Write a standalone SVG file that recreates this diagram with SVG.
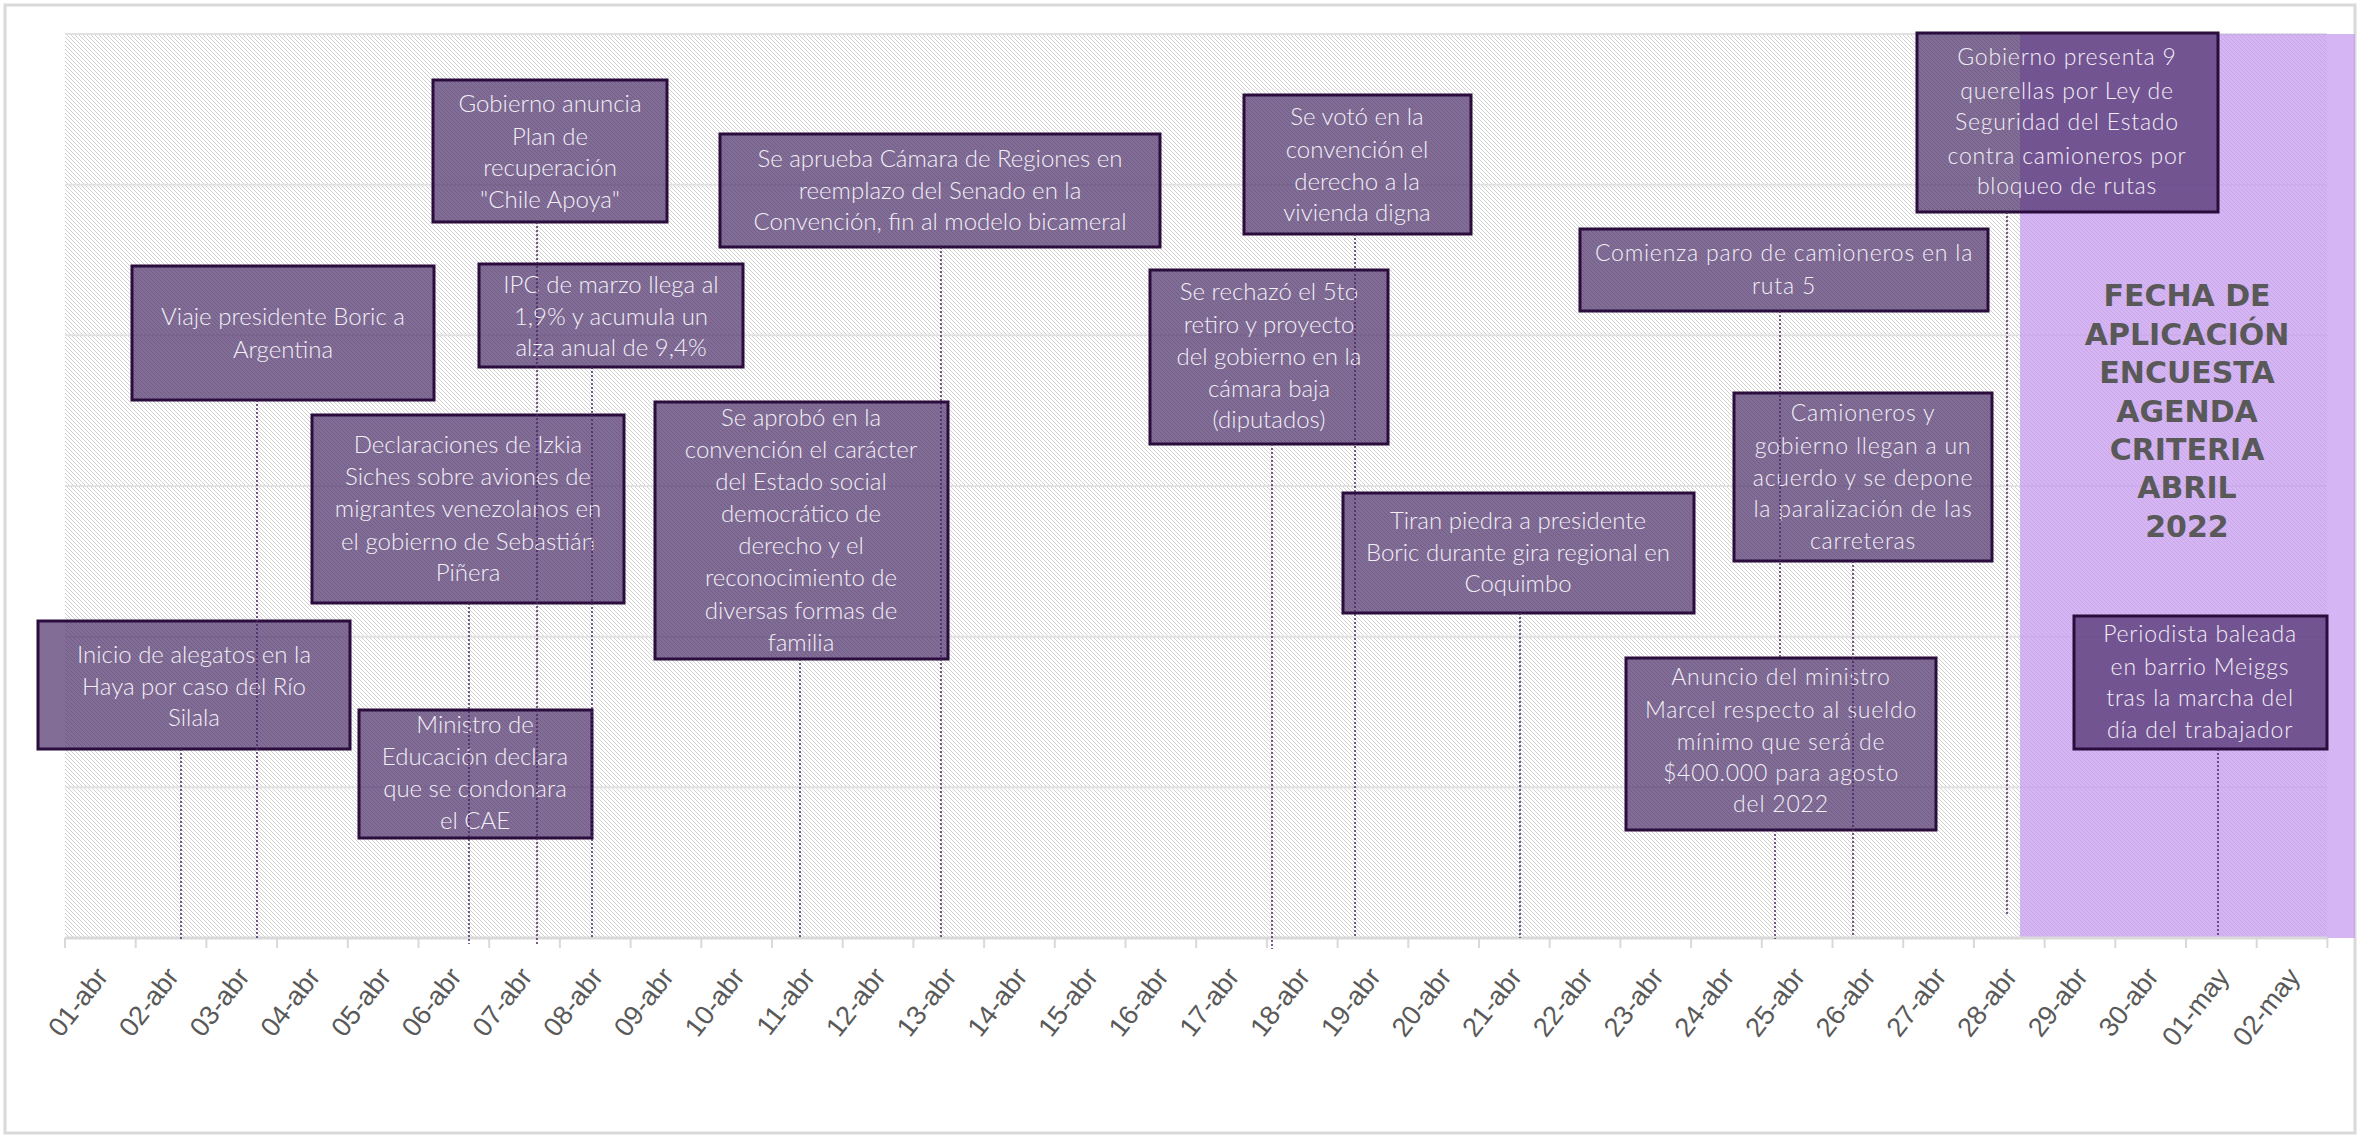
<svg xmlns="http://www.w3.org/2000/svg" width="2364" height="1138" viewBox="0 0 2364 1138">
<defs>
<pattern id="hatch" patternUnits="userSpaceOnUse" width="4" height="4">
<rect width="4" height="4" fill="#ffffff"/>
<path d="M0,0 L4,4 M-1,3 L1,5 M3,-1 L5,1" stroke="#d0d0d0" stroke-width="1"/>
</pattern>
<style>
.box{fill:rgb(70,40,100);fill-opacity:.68;stroke:#2a0d3d;stroke-width:3}
.t{font-family:Lato,"Open Sans","Liberation Sans",sans-serif;font-weight:300;font-size:24px;fill:#f3eff6;text-anchor:middle}
.cg{font-size:23px;letter-spacing:0.8px}
.c{stroke:#4a2466;stroke-width:1.5;stroke-dasharray:2 2;fill:none}
.grid{stroke:#e2e2e2;stroke-width:2;fill:none}
.ax{font-family:"Liberation Sans",Arial,sans-serif;font-size:27px;fill:#595959;text-anchor:end}
.title{font-family:"DejaVu Sans",sans-serif;font-weight:bold;font-size:30px;fill:#595959;text-anchor:middle}
</style>
</defs>
<rect x="5" y="5" width="2350" height="1128" fill="#ffffff" stroke="#d9d9d9" stroke-width="3"/>
<g id="plot">
<rect x="65" y="34" width="2262" height="904" fill="url(#hatch)"/>
<path class="grid" d="M65,34H2327M65,184.7H2327M65,335.3H2327M65,486H2327M65,636.7H2327M65,787.3H2327"/>
<rect x="2020" y="34" width="335" height="904" fill="rgb(196,150,240)" fill-opacity="0.7"/>
</g>
<g id="axis">
<path d="M65,938H2327" stroke="#d9d9d9" stroke-width="3"/>
<path d="M65,938v10M135.7,938v10M206.4,938v10M277.1,938v10M347.8,938v10M418.5,938v10M489.2,938v10M559.9,938v10M630.6,938v10M701.3,938v10M772,938v10M842.7,938v10M913.4,938v10M984.1,938v10M1054.8,938v10M1125.5,938v10M1196.2,938v10M1266.9,938v10M1337.6,938v10M1408.3,938v10M1479,938v10M1549.7,938v10M1620.4,938v10M1691.1,938v10M1761.8,938v10M1832.5,938v10M1903.2,938v10M1973.9,938v10M2044.6,938v10M2115.3,938v10M2186,938v10M2256.7,938v10M2327.4,938v10" stroke="#d9d9d9" stroke-width="2"/>
<text class="ax" transform="translate(109.4,977) rotate(-52)">01-abr</text>
<text class="ax" transform="translate(180.1,977) rotate(-52)">02-abr</text>
<text class="ax" transform="translate(250.8,977) rotate(-52)">03-abr</text>
<text class="ax" transform="translate(321.5,977) rotate(-52)">04-abr</text>
<text class="ax" transform="translate(392.2,977) rotate(-52)">05-abr</text>
<text class="ax" transform="translate(462.9,977) rotate(-52)">06-abr</text>
<text class="ax" transform="translate(533.6,977) rotate(-52)">07-abr</text>
<text class="ax" transform="translate(604.3,977) rotate(-52)">08-abr</text>
<text class="ax" transform="translate(675,977) rotate(-52)">09-abr</text>
<text class="ax" transform="translate(745.7,977) rotate(-52)">10-abr</text>
<text class="ax" transform="translate(816.4,977) rotate(-52)">11-abr</text>
<text class="ax" transform="translate(887.1,977) rotate(-52)">12-abr</text>
<text class="ax" transform="translate(957.8,977) rotate(-52)">13-abr</text>
<text class="ax" transform="translate(1028.5,977) rotate(-52)">14-abr</text>
<text class="ax" transform="translate(1099.2,977) rotate(-52)">15-abr</text>
<text class="ax" transform="translate(1169.9,977) rotate(-52)">16-abr</text>
<text class="ax" transform="translate(1240.6,977) rotate(-52)">17-abr</text>
<text class="ax" transform="translate(1311.3,977) rotate(-52)">18-abr</text>
<text class="ax" transform="translate(1382,977) rotate(-52)">19-abr</text>
<text class="ax" transform="translate(1452.7,977) rotate(-52)">20-abr</text>
<text class="ax" transform="translate(1523.4,977) rotate(-52)">21-abr</text>
<text class="ax" transform="translate(1594.1,977) rotate(-52)">22-abr</text>
<text class="ax" transform="translate(1664.8,977) rotate(-52)">23-abr</text>
<text class="ax" transform="translate(1735.5,977) rotate(-52)">24-abr</text>
<text class="ax" transform="translate(1806.2,977) rotate(-52)">25-abr</text>
<text class="ax" transform="translate(1876.9,977) rotate(-52)">26-abr</text>
<text class="ax" transform="translate(1947.6,977) rotate(-52)">27-abr</text>
<text class="ax" transform="translate(2018.3,977) rotate(-52)">28-abr</text>
<text class="ax" transform="translate(2089,977) rotate(-52)">29-abr</text>
<text class="ax" transform="translate(2159.7,977) rotate(-52)">30-abr</text>
<text class="ax" transform="translate(2230.4,977) rotate(-52)">01-may</text>
<text class="ax" transform="translate(2301.1,977) rotate(-52)">02-may</text>
</g>
<g id="title">
<text class="title" x="2187" y="306">FECHA DE</text>
<text class="title" x="2187" y="345">APLICACIÓN</text>
<text class="title" x="2187" y="383">ENCUESTA</text>
<text class="title" x="2187" y="422">AGENDA</text>
<text class="title" x="2187" y="460">CRITERIA</text>
<text class="title" x="2187" y="498">ABRIL</text>
<text class="title" x="2187" y="537">2022</text>
</g>
<g id="n-inicio-alegatos"><rect class="box" x="38" y="621" width="312" height="128"/>
<text class="t" x="194" y="663">Inicio de alegatos en la</text><text class="t" x="194" y="695">Haya por caso del Río</text><text class="t" x="194" y="726">Silala</text></g>
<g id="n-viaje-boric"><rect class="box" x="132" y="266" width="302" height="134"/>
<text class="t" x="283" y="325">Viaje presidente Boric a</text><text class="t" x="283" y="358">Argentina</text></g>
<g id="n-chile-apoya"><rect class="box" x="433" y="80" width="234" height="142"/>
<text class="t" x="550" y="112">Gobierno anuncia</text><text class="t" x="550" y="145">Plan de</text><text class="t" x="550" y="176">recuperación</text><text class="t" x="550" y="208">"Chile Apoya"</text></g>
<g id="n-ipc"><rect class="box" x="479" y="264" width="264" height="103"/>
<text class="t" x="611" y="293">IPC de marzo llega al</text><text class="t" x="611" y="325">1,9% y acumula un</text><text class="t" x="611" y="356">alza anual de 9,4%</text></g>
<g id="n-izkia-siches"><rect class="box" x="312" y="415" width="312" height="188"/>
<text class="t" x="468" y="453">Declaraciones de Izkia</text><text class="t" x="468" y="485">Siches sobre aviones de</text><text class="t" x="468" y="517">migrantes venezolanos en</text><text class="t" x="468" y="550">el gobierno de Sebastián</text><text class="t" x="468" y="581">Piñera</text></g>
<g id="n-cae"><rect class="box" x="359" y="710" width="233" height="128"/>
<text class="t" x="475" y="733">Ministro de</text><text class="t" x="475" y="765">Educación declara</text><text class="t" x="475" y="797">que se condonara</text><text class="t" x="475" y="829">el CAE</text></g>
<g id="n-estado-social"><rect class="box" x="655" y="402" width="293" height="257"/>
<text class="t" x="801" y="426">Se aprobó en la</text><text class="t" x="801" y="458">convención el carácter</text><text class="t" x="801" y="490">del Estado social</text><text class="t" x="801" y="522">democrático de</text><text class="t" x="801" y="554">derecho y el</text><text class="t" x="801" y="586">reconocimiento de</text><text class="t" x="801" y="619">diversas formas de</text><text class="t" x="801" y="651">familia</text></g>
<g id="n-camara-regiones"><rect class="box" x="720" y="134" width="440" height="113"/>
<text class="t" x="940" y="167">Se aprueba Cámara de Regiones en</text><text class="t" x="940" y="199">reemplazo del Senado en la</text><text class="t" x="940" y="230">Convención, fin al modelo bicameral</text></g>
<g id="n-vivienda"><rect class="box" x="1244" y="95" width="227" height="139"/>
<text class="t" x="1357" y="125">Se votó en la</text><text class="t" x="1357" y="158">convención el</text><text class="t" x="1357" y="190">derecho a la</text><text class="t" x="1357" y="221">vivienda digna</text></g>
<g id="n-5to-retiro"><rect class="box" x="1150" y="270" width="238" height="174"/>
<text class="t" x="1269" y="300">Se rechazó el 5to</text><text class="t" x="1269" y="333">retiro y proyecto</text><text class="t" x="1269" y="365">del gobierno en la</text><text class="t" x="1269" y="397">cámara baja</text><text class="t" x="1269" y="428">(diputados)</text></g>
<g id="n-piedra"><rect class="box" x="1343" y="493" width="351" height="120"/>
<text class="t" x="1518" y="529">Tiran piedra a presidente</text><text class="t" x="1518" y="561">Boric durante gira regional en</text><text class="t" x="1518" y="592">Coquimbo</text></g>
<g id="n-paro"><rect class="box" x="1580" y="229" width="408" height="82"/>
<text class="t cg" x="1784" y="261">Comienza paro de camioneros en la</text><text class="t cg" x="1784" y="294">ruta 5</text></g>
<g id="n-acuerdo"><rect class="box" x="1734" y="393" width="258" height="168"/>
<text class="t cg" x="1863" y="421">Camioneros y</text><text class="t cg" x="1863" y="454">gobierno llegan a un</text><text class="t cg" x="1863" y="486">acuerdo y se depone</text><text class="t cg" x="1863" y="517">la paralización de las</text><text class="t cg" x="1863" y="549">carreteras</text></g>
<g id="n-sueldo-minimo"><rect class="box" x="1626" y="658" width="310" height="172"/>
<text class="t cg" x="1781" y="685">Anuncio del ministro</text><text class="t cg" x="1781" y="718">Marcel respecto al sueldo</text><text class="t cg" x="1781" y="750">mínimo que será de</text><text class="t cg" x="1781" y="781">$400.000 para agosto</text><text class="t cg" x="1781" y="812">del 2022</text></g>
<g id="n-querellas"><rect class="box" x="1917" y="33" width="301" height="179"/>
<text class="t cg" x="2067" y="65">Gobierno presenta 9</text><text class="t cg" x="2067" y="99">querellas por Ley de</text><text class="t cg" x="2067" y="130">Seguridad del Estado</text><text class="t cg" x="2067" y="164">contra camioneros por</text><text class="t cg" x="2067" y="194">bloqueo de rutas</text></g>
<g id="n-periodista"><rect class="box" x="2074" y="616" width="253" height="133"/>
<text class="t cg" x="2200" y="642">Periodista baleada</text><text class="t cg" x="2200" y="675">en barrio Meiggs</text><text class="t cg" x="2200" y="706">tras la marcha del</text><text class="t cg" x="2200" y="738">día del trabajador</text></g>
<g id="connectors">
<path class="c" d="M181,749V940"/>
<path class="c" d="M257,400V938"/>
<path class="c" d="M537,222V944"/>
<path class="c" d="M592,367V938"/>
<path class="c" d="M469,603V944"/>
<path class="c" d="M800,659V938"/>
<path class="c" d="M941,247V938"/>
<path class="c" d="M1355,234V936"/>
<path class="c" d="M1272,444V949"/>
<path class="c" d="M1520,613V938"/>
<path class="c" d="M1780,311V658"/>
<path class="c" d="M1853,561V935"/>
<path class="c" d="M1775,830V939"/>
<path class="c" d="M2007,212V915"/>
<path class="c" d="M2218,749V936"/>
</g>
</svg>
